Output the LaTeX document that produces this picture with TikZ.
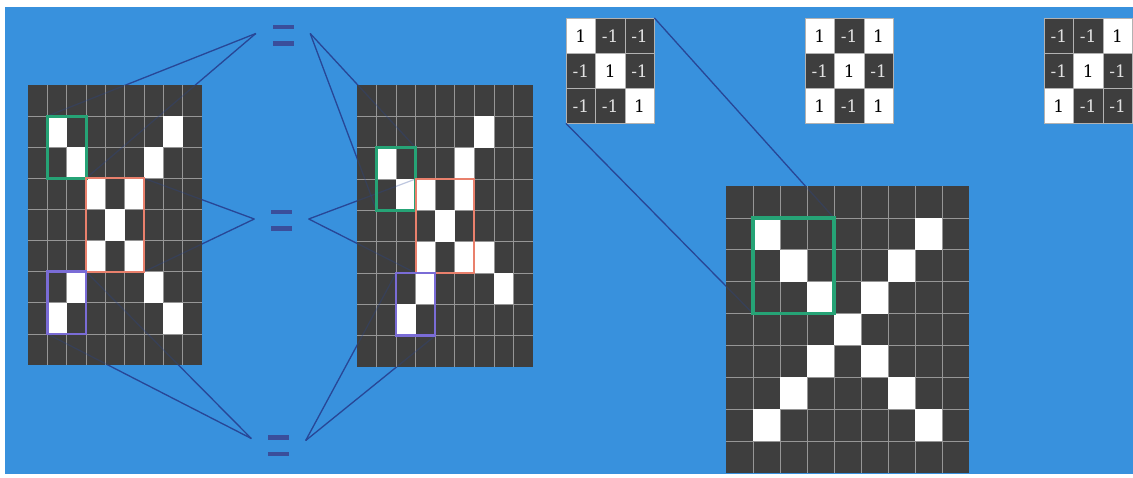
\documentclass[tikz,border=0pt]{standalone}
\usepackage{fontspec}
\usetikzlibrary{calc}
\newfontfamily\digitfont{DejaVu Serif}
\definecolor{bgblue}{RGB}{56,145,221}
\definecolor{cellgray}{RGB}{62,62,62}
\definecolor{gridgray}{RGB}{150,150,150}
\definecolor{linkblue}{RGB}{40,70,150}
\definecolor{eqblue}{RGB}{58,78,155}
\definecolor{boxgreen}{RGB}{38,163,118}
\definecolor{boxorange}{RGB}{233,128,108}
\definecolor{boxpurple}{RGB}{122,108,214}
\definecolor{darktext}{RGB}{225,225,225}

\newcommand{\pixgrid}[5]{%
  \fill[cellgray] (#1,#2) rectangle ++({9*#3},{9*#4});
  \foreach \i in {1,...,8} {
    \draw[gridln] ({#1+\i*#3},#2) -- ++(0,{9*#4});
    \draw[gridln] (#1,{#2+\i*#4}) -- ++({9*#3},0);
  }
  \foreach \c/\r in {#5} \fill[white] ({#1+\c*#3},{#2+\r*#4}) rectangle ++(#3,#4);
}
\newcommand{\filtermat}[3]{%
  \foreach \v [count=\k from 0] in {#3} {
    \pgfmathtruncatemacro\cc{mod(\k,3)}
    \pgfmathtruncatemacro\rr{div(\k,3)}
    \ifnum\v=1
      \node[fcell, fill=white, text=black] (#1-\rr\cc) at ({#2+\cc*29.33},{18+\rr*35}) {\v};
    \else
      \node[fcell, fill=cellgray, text=darktext] (#1-\rr\cc) at ({#2+\cc*29.33},{18+\rr*35}) {\v};
    \fi
  }
}
\newcommand{\allconnectors}{%
  \draw[link] ([yshift=2pt]eq1.west) -- (LGtl);
  \draw[link] ([yshift=2pt]eq1.west) -- (LGbr);
  \draw[link] ([yshift=2pt]eq1.east) -- (MGtr);
  \draw[link] ([yshift=2pt]eq1.east) -- (MGbl);
  \draw[link] ([yshift=1.5pt]eq2.west) -- (LOtr);
  \draw[link] ([yshift=1.5pt]eq2.west) -- (LObr);
  \draw[link] ([yshift=1.5pt]eq2.east) -- (MOtl);
  \draw[link] ([yshift=1.5pt]eq2.east) -- (MObl);
  \draw[link] ([yshift=7pt]eq3.west) -- (LPtr);
  \draw[link] ([yshift=7pt]eq3.west) -- (LPbl);
  \draw[link] ([yshift=5pt]eq3.east) -- (MPtl);
  \draw[link] ([yshift=5pt]eq3.east) -- (MPbr);
  \draw[link] (fa-02.north east) -- (BGtr);
  \draw[link] (fa-20.south west) -- (BGbl);
}

\begin{document}
\begin{tikzpicture}[x=1pt,y=-1pt,
  gridln/.style={draw=gridgray, line width=0.7pt},
  fcell/.style={anchor=north west, minimum width=29.33pt, minimum height=35pt, inner sep=0pt,
    draw=white!70!black, line width=0.4pt, font=\digitfont\fontsize{17}{17}\selectfont},
  link/.style={draw=linkblue, line width=1.2pt},
  eqsign/.style={minimum width=54pt, minimum height=21pt, inner sep=0pt, fill=bgblue,
    path picture={
      \fill[eqblue] ($(path picture bounding box.center)+(-10.5,-10.5)$) rectangle ++(21,4.5);
      \fill[eqblue] ($(path picture bounding box.center)+(-10.5,6)$) rectangle ++(21,4.5);
    }},
  gbox/.style={draw=boxgreen, line width=3pt},
  obox/.style={draw=boxorange, line width=2.2pt},
  pbox/.style={draw=boxpurple, line width=2.5pt}]
\useasboundingbox (0,0) rectangle (1133,478);
\fill[white] (0,0) rectangle (1133,478);
\fill[bgblue] (5,7) rectangle (1133,474);

% box corners
\coordinate (LGtl) at (47.33,116.1);  \coordinate (LGbr) at (86.0,178.3);
\coordinate (LOtl) at (86.0,178.3);   \coordinate (LObr) at (144.0,271.7);
\coordinate (LOtr) at (144.0,178.3);
\coordinate (LPtl) at (47.33,271.7);  \coordinate (LPbr) at (86.0,333.9);
\coordinate (LPtr) at (86.0,271.7);   \coordinate (LPbl) at (47.33,333.9);
\coordinate (MGtl) at (376.6,147.7);  \coordinate (MGbr) at (415.7,210.3);
\coordinate (MGtr) at (415.7,147.7);  \coordinate (MGbl) at (376.6,210.3);
\coordinate (MOtl) at (415.7,179.0);  \coordinate (MObr) at (474.3,273.0);
\coordinate (MObl) at (415.7,273.0);
\coordinate (MPtl) at (396.1,273.0);  \coordinate (MPbr) at (435.2,335.7);
\coordinate (BGtl) at (753,217.9);    \coordinate (BGbr) at (834,313.6);
\coordinate (BGtr) at (834,217.9);    \coordinate (BGbl) at (753,313.6);

% filters
\filtermat{fa}{566}{1,-1,-1,-1,1,-1,-1,-1,1}
\filtermat{fb}{805}{1,-1,1,-1,1,-1,1,-1,1}
\filtermat{fc}{1044}{-1,-1,1,-1,1,-1,1,-1,-1}

% equal signs
\node[eqsign] (eq1) at (283,35.5) {};
\node[eqsign] (eq2) at (281.5,220.5) {};
\node[eqsign] (eq3) at (278.5,445.5) {};

% connectors (full strength on the blue ground)
\allconnectors

% grids
\pixgrid{28}{85}{19.333}{31.11}{1/1,7/1,2/2,6/2,3/3,5/3,4/4,3/5,5/5,2/6,6/6,1/7,7/7}
\pixgrid{357}{85}{19.556}{31.33}{6/1,1/2,5/2,2/3,3/3,5/3,4/4,3/5,5/5,6/5,3/6,7/6,2/7}
\pixgrid{726}{186}{27}{31.89}{1/1,7/1,2/2,6/2,3/3,5/3,4/4,3/5,5/5,2/6,6/6,1/7,7/7}

% connectors, faint where they cross the grids
\begin{scope}[opacity=0.3]
\allconnectors
\end{scope}

% boxes
\draw[gbox] (LGtl) rectangle (LGbr);
\draw[obox] (LOtl) rectangle (LObr);
\draw[pbox] (LPtl) rectangle (LPbr);
\draw[gbox] (MGtl) rectangle (MGbr);
\draw[obox] (MOtl) rectangle (MObr);
\draw[pbox] (MPtl) rectangle (MPbr);
\draw[gbox, line width=3.5pt] (BGtl) rectangle (BGbr);
\end{tikzpicture}
\end{document}
